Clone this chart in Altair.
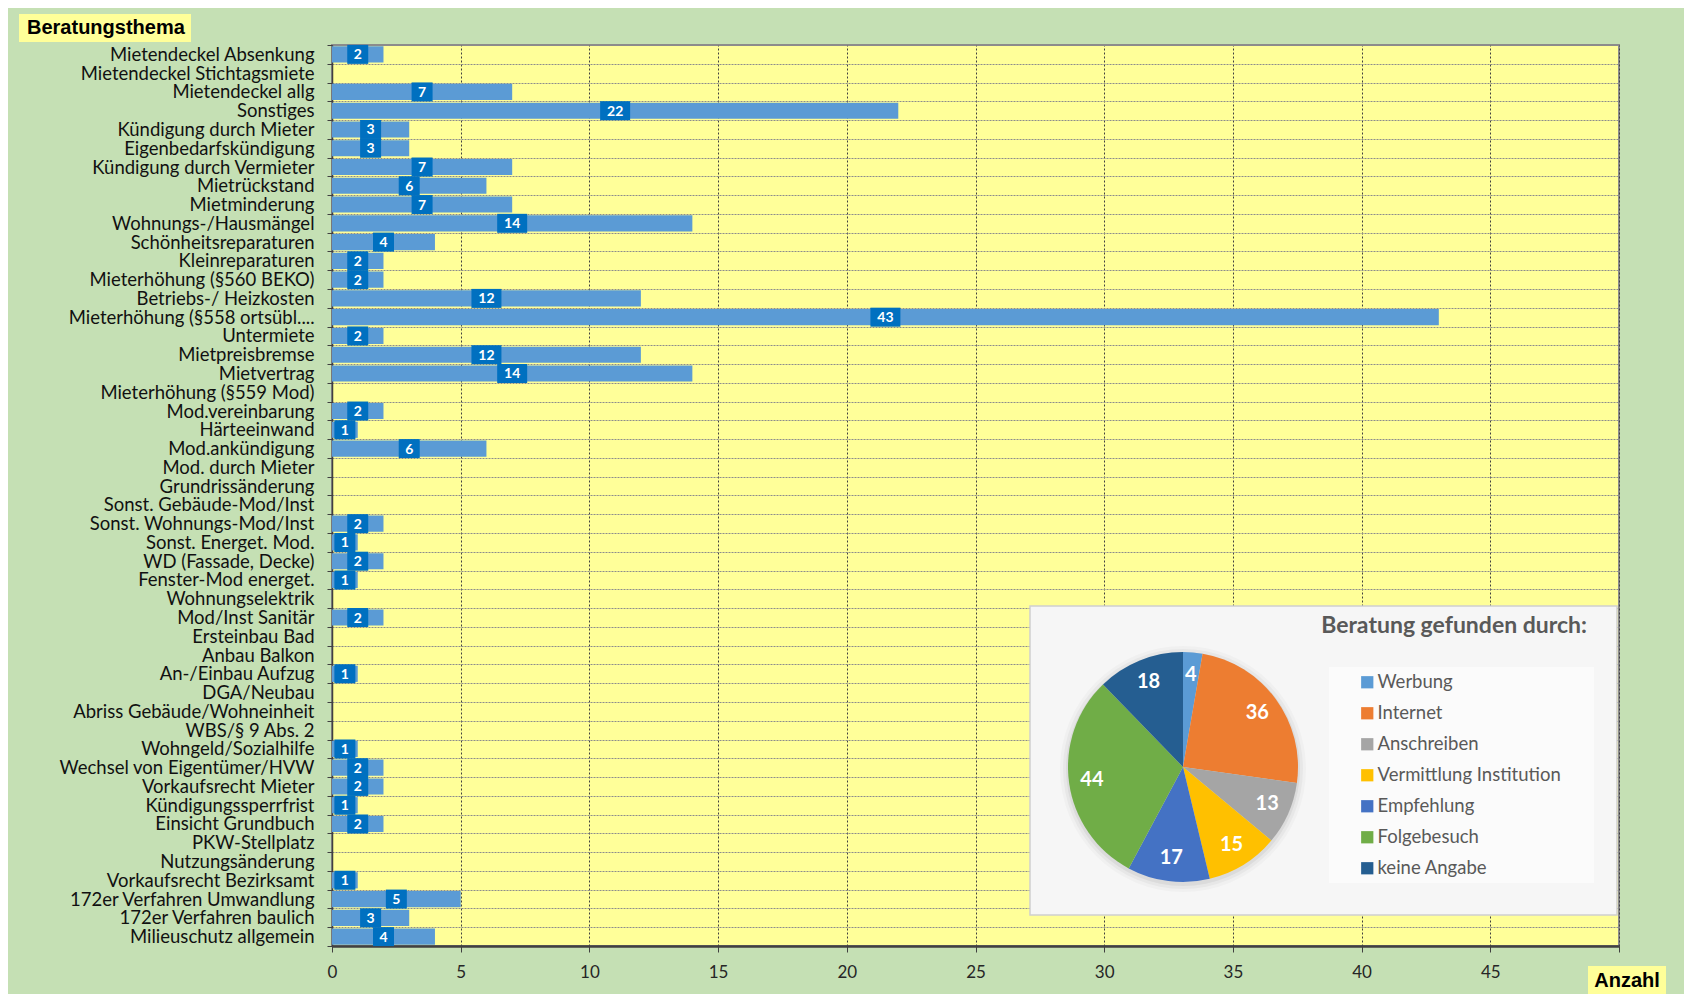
import altair as alt
import pandas as pd

# ---------------- data ----------------
categories = [
    "Mietendeckel Absenkung", "Mietendeckel Stichtagsmiete", "Mietendeckel allg", "Sonstiges",
    "Kündigung durch Mieter", "Eigenbedarfskündigung", "Kündigung durch Vermieter", "Mietrückstand",
    "Mietminderung", "Wohnungs-/Hausmängel", "Schönheitsreparaturen", "Kleinreparaturen",
    "Mieterhöhung (§560 BEKO)", "Betriebs-/ Heizkosten", "Mieterhöhung (§558 ortsübl....",
    "Untermiete", "Mietpreisbremse", "Mietvertrag", "Mieterhöhung (§559 Mod)", "Mod.vereinbarung",
    "Härteeinwand", "Mod.ankündigung", "Mod. durch Mieter", "Grundrissänderung",
    "Sonst. Gebäude-Mod/Inst", "Sonst. Wohnungs-Mod/Inst", "Sonst. Energet. Mod.",
    "WD (Fassade, Decke)", "Fenster-Mod energet.", "Wohnungselektrik", "Mod/Inst Sanitär",
    "Ersteinbau Bad", "Anbau Balkon", "An-/Einbau Aufzug", "DGA/Neubau",
    "Abriss Gebäude/Wohneinheit", "WBS/§ 9 Abs. 2", "Wohngeld/Sozialhilfe",
    "Wechsel von Eigentümer/HVW", "Vorkaufsrecht Mieter", "Kündigungssperrfrist",
    "Einsicht Grundbuch", "PKW-Stellplatz", "Nutzungsänderung", "Vorkaufsrecht Bezirksamt",
    "172er Verfahren Umwandlung", "172er Verfahren baulich", "Milieuschutz allgemein",
]
counts = [
    2, 0, 7, 22, 3, 3, 7, 6, 7, 14, 4, 2, 2, 12, 43, 2, 12, 14, 0, 2, 1, 6, 0, 0,
    0, 2, 1, 2, 1, 0, 2, 0, 0, 1, 0, 0, 0, 1, 2, 2, 1, 2, 0, 0, 1, 5, 3, 4,
]
x_ticks = [0, 5, 10, 15, 20, 25, 30, 35, 40, 45, 50]

sources = ["Werbung", "Internet", "Anschreiben", "Vermittlung Institution",
           "Empfehlung", "Folgebesuch", "keine Angabe"]
source_counts = [4, 36, 13, 15, 17, 44, 18]
source_colors = ["#5B9BD5", "#ED7D31", "#A5A5A5", "#FFC000", "#4472C4", "#70AD47", "#255E91"]

y_title = "Beratungsthema"
x_title = "Anzahl"
pie_title = "Beratung gefunden durch:"

# ---------------- tables ----------------
bars_df = pd.DataFrame({"thema": categories, "anzahl": counts})
pie_df = pd.DataFrame({"quelle": sources, "anzahl": source_counts,
                       "idx": list(range(len(sources)))})
one = pd.DataFrame({"k": [0]})

W, H = 1287, 901
FONT = "Lato"

x_scale = alt.Scale(domain=[0, 50], nice=False)
y_scale = alt.Scale(paddingInner=0, paddingOuter=0)

x_axis = alt.Axis(
    title=None, values=x_ticks, labelExpr="datum.value >= 50 ? '' : datum.label",
    labelFont=FONT, labelFontSize=17, labelColor="#262626", labelPadding=12,
    labelFlush=False,
    tickSize=6, tickColor="#404040", domainColor="#404040", domainWidth=2.5,
    grid=True, gridColor="#404040", gridDash=[2, 2], gridWidth=1,
)
y_axis = alt.Axis(
    title=None, labelFont=FONT, labelFontSize=18.5, labelColor="#111111", labelLimit=0,
    labelPadding=13, tickSize=5, tickColor="#404040", tickBand="extent",
    domainColor="#404040", domainWidth=1.5,
    grid=True, gridColor="#8c8c8c", gridDash=[2, 1], gridWidth=1,
)

def xenc(field):
    return alt.X(field, scale=x_scale, axis=x_axis, title=None)

def yenc():
    return alt.Y("thema:N", sort=categories, scale=y_scale, axis=y_axis, title=None)

bars = alt.Chart(bars_df).mark_bar(
    color="#5B9BD5", height=alt.RelativeBandSize(0.86)
).encode(x=xenc("anzahl:Q"), y=yenc())

lab_base = alt.Chart(bars_df).transform_filter("datum.anzahl > 0").transform_calculate(
    mid="datum.anzahl / 2"
)
box1 = lab_base.transform_filter("datum.anzahl < 10").mark_tick(
    color="#0070C0", thickness=21, size=19, orient="vertical", opacity=1
).encode(x=xenc("mid:Q"), y=yenc())
box2 = lab_base.transform_filter("datum.anzahl >= 10").mark_tick(
    color="#0070C0", thickness=30, size=19, orient="vertical", opacity=1
).encode(x=xenc("mid:Q"), y=yenc())
lab_text = lab_base.mark_text(
    color="white", font=FONT, fontWeight="bold", fontSize=14, baseline="middle", dy=1
).encode(x=xenc("mid:Q"), y=yenc(), text="anzahl:Q")

# ---------------- title boxes ----------------
ytitle_box = alt.Chart(one).mark_rect(color="#FFFF99").encode(
    x=alt.value(-313), x2=alt.value(-141), y=alt.value(-31), y2=alt.value(-3))
ytitle_text = alt.Chart(one).mark_text(
    align="left", baseline="middle", font="Liberation Sans", fontWeight="bold",
    fontSize=20, color="#000000"
).encode(x=alt.value(-305), y=alt.value(-17), text=alt.value(y_title))

xtitle_box = alt.Chart(one).mark_rect(color="#FFFF99").encode(
    x=alt.value(1256), x2=alt.value(1334), y=alt.value(921), y2=alt.value(949))
xtitle_text = alt.Chart(one).mark_text(
    align="center", baseline="middle", font="Liberation Sans", fontWeight="bold",
    fontSize=20, color="#000000"
).encode(x=alt.value(1295), y=alt.value(936), text=alt.value(x_title))

# ---------------- pie panel ----------------
CX, CY, R = 851, 722, 115
frame = alt.Chart(one).mark_rect(color="#F6F6F6", stroke="#D0D0D0", strokeWidth=1.5).encode(
    x=alt.value(698), x2=alt.value(1285), y=alt.value(561), y2=alt.value(870))
legend_box = alt.Chart(one).mark_rect(color="#FBFBFB").encode(
    x=alt.value(997), x2=alt.value(1262), y=alt.value(622), y2=alt.value(838))
ptitle = alt.Chart(one).mark_text(
    align="right", baseline="middle", font=FONT, fontWeight="bold", fontSize=23,
    color="#595959"
).encode(x=alt.value(1255), y=alt.value(581), text=alt.value(pie_title))

shadows = [
    alt.Chart(one).mark_arc(theta=0, theta2=6.2832, outerRadius=R + rr, color="#000000",
                            opacity=op).encode(x=alt.value(CX), y=alt.value(CY + 2))
    for rr, op in [(8, 0.025), (5, 0.035), (2, 0.05)]
]

pie = alt.Chart(pie_df).mark_arc(outerRadius=R).encode(
    theta=alt.Theta("anzahl:Q", stack=True),
    order=alt.Order("idx:Q"),
    color=alt.Color(
        "quelle:N", sort=sources,
        scale=alt.Scale(domain=sources, range=source_colors),
        legend=alt.Legend(
            orient="none", legendX=1026, legendY=628, title=None, symbolType="square",
            symbolSize=150, symbolStrokeWidth=0, labelFont=FONT, labelFontSize=18.5,
            labelColor="#595959", rowPadding=12, labelOffset=1, padding=0, labelLimit=0,
        ),
    ),
    x=alt.value(CX), y=alt.value(CY),
)
pie_text = alt.Chart(pie_df).mark_text(
    radius=92, color="white", font=FONT, fontWeight="bold", fontSize=20,
    baseline="middle", align="center"
).encode(
    theta=alt.Theta("anzahl:Q", stack=True),
    order=alt.Order("idx:Q"),
    text="anzahl:Q",
    x=alt.value(CX), y=alt.value(CY),
)

chart = alt.layer(
    bars, box1, box2, lab_text,
    ytitle_box, ytitle_text, xtitle_box, xtitle_text,
    frame, legend_box, ptitle, *shadows, pie, pie_text,
).properties(
    width=W, height=H,
    autosize=alt.AutoSizeParams(type="none"),
    padding={"left": 324, "top": 37, "right": 65, "bottom": 48},
    background="#C5E0B4",
).configure_view(
    fill="#FFFF99", stroke="#8c8c8c", strokeWidth=2
)

chart.save("out.html", embed_options={"renderer": "svg", "actions": False})
